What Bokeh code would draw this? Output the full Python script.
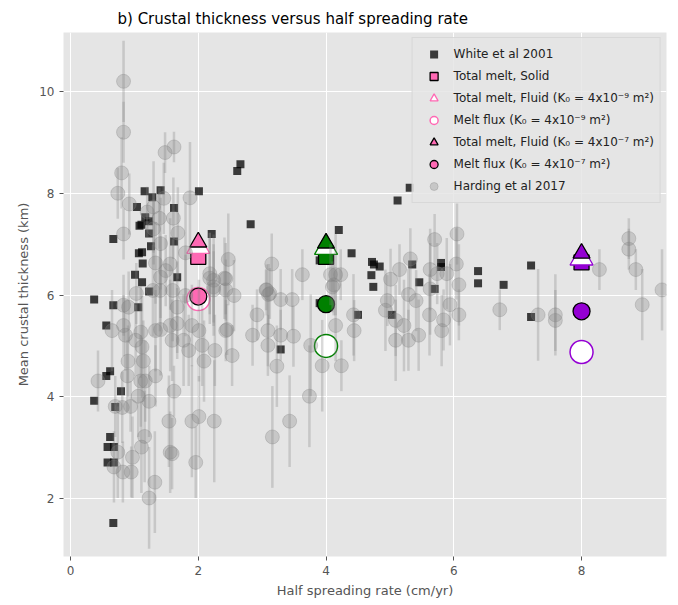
from bokeh.plotting import figure
from bokeh.models import ColumnDataSource, Legend, LegendItem, FixedTicker, Range1d
from bokeh.embed import file_html
from bokeh.resources import INLINE

# ---------------- data ----------------
# White et al. 2001 (half spreading rate cm/yr, crustal thickness km)
white_rate = [2.66, 2.61, 1.16, 1.41, 1.28, 2.01, 1.04, 1.62, 1.17, 1.23, 1.08, 1.11, 2.82,
              0.67, 1.23, 2.21, 1.62, 1.26, 1.07, 1.12, 1.13, 1.01, 1.67, 1.12, 1.23, 0.37,
              0.67, 1.06, 0.56, 0.62, 0.56, 0.79, 0.37, 0.70, 0.62, 0.58, 0.68, 0.58, 0.68,
              0.67, 3.29, 5.31, 5.12, 4.20, 4.40, 3.90, 4.72, 4.75, 4.84, 4.71, 4.74, 5.35,
              5.80, 5.80, 5.46, 5.70, 6.38, 6.38, 3.90, 4.50, 5.03, 6.78, 7.21, 7.21]
white_thick = [8.57, 8.44, 8.04, 8.06, 7.92, 8.04, 7.73, 7.71, 7.53, 7.45, 7.36, 7.38, 7.39,
               7.10, 7.21, 7.20, 7.05, 6.96, 6.82, 6.84, 6.62, 6.40, 6.35, 6.25, 6.07, 5.91,
               5.80, 5.76, 5.40, 4.50, 4.41, 4.11, 3.92, 3.80, 3.21, 3.01, 3.01, 2.71, 2.71,
               1.52, 4.93, 8.11, 7.86, 7.28, 6.82, 6.68, 6.65, 6.60, 6.56, 6.39, 6.16, 6.60,
               6.63, 6.55, 6.25, 6.12, 6.47, 6.23, 5.84, 5.61, 5.61, 6.20, 6.58, 5.57]

# Harding et al. 2017 (rate, thickness, half error bar)
hard_rate = [0.83, 0.83, 1.48, 1.62, 0.80, 0.74, 0.92, 1.46, 1.87, 1.30, 1.20, 1.61, 1.39, 1.68,
             0.83, 1.30, 1.41, 1.80, 1.33, 1.56, 1.49, 1.41, 2.47, 3.15, 2.18, 2.24, 2.43, 1.03,
             1.29, 1.40, 1.60, 1.80, 2.24, 2.43, 2.56, 3.06, 3.12, 3.29, 0.83, 0.91, 1.67, 2.92,
             2.43, 2.45, 2.85, 3.09, 3.29, 3.09, 3.23, 0.65, 0.83, 0.86, 1.10, 1.02, 1.12, 1.33,
             1.41, 1.56, 1.67, 1.90, 2.01, 1.59, 1.77, 1.85, 2.06, 2.26, 2.09, 2.53, 0.90, 1.14,
             0.43, 0.89, 1.10, 1.17, 1.33, 1.62, 0.70, 0.81, 0.94, 1.06, 1.23, 1.54, 1.90, 2.01,
             2.25, 3.16, 3.43, 1.16, 1.11, 0.74, 0.97, 1.56, 1.59, 1.96, 0.68, 0.82, 0.95, 1.32,
             1.23, 3.74, 3.94, 3.76, 3.49, 3.63, 4.07, 4.15, 4.23, 4.12, 4.10, 3.47, 4.43, 4.44,
             4.15, 4.24, 5.32, 5.15, 5.01, 4.96, 4.93, 5.09, 5.22, 5.29, 5.41, 5.09, 5.29, 5.45,
             5.70, 6.05, 5.63, 5.74, 5.89, 6.04, 6.08, 5.63, 5.94, 5.62, 5.84, 5.81, 6.08, 6.72,
             7.32, 7.59, 7.59, 8.28, 8.74, 8.74, 8.85, 8.95, 9.26, 2.41, 2.18, 2.24, 3.07, 3.10]
hard_thick = [10.20, 9.20, 8.80, 8.91, 8.40, 8.00, 7.79, 7.90, 7.91, 7.73, 7.63, 7.51, 7.51, 7.22,
              7.20, 7.30, 7.01, 6.83, 6.63, 6.61, 6.48, 6.35, 6.70, 6.61, 6.42, 6.29, 6.32, 6.03,
              6.09, 6.09, 6.09, 5.99, 6.10, 6.10, 5.99, 6.10, 6.03, 5.91, 5.80, 5.76, 5.76, 5.61,
              5.30, 5.32, 5.21, 5.30, 5.21, 5.01, 4.60, 5.30, 5.40, 5.21, 5.27, 5.11, 4.98, 5.30,
              5.32, 5.40, 5.44, 5.40, 5.30, 5.11, 5.11, 4.91, 5.01, 4.91, 4.70, 4.81, 4.70, 4.70,
              4.31, 4.41, 4.31, 4.31, 4.41, 4.11, 3.81, 3.79, 3.81, 4.01, 3.91, 3.52, 3.52, 3.61,
              3.52, 3.21, 3.52, 3.22, 3.01, 2.91, 2.81, 2.91, 2.88, 2.71, 2.62, 2.52, 2.52, 2.32,
              2.01, 4.01, 4.61, 5.01, 5.19, 6.40, 6.40, 6.40, 6.40, 6.20, 6.16, 5.91, 5.61, 5.30,
              5.40, 4.61, 6.71, 6.50, 6.31, 5.89, 5.70, 5.50, 5.40, 6.01, 5.89, 5.11, 5.11, 5.21,
              7.09, 7.20, 6.50, 6.42, 6.42, 6.61, 6.20, 6.12, 5.81, 5.61, 5.51, 5.30, 5.61, 5.71,
              5.61, 5.61, 5.50, 6.50, 7.11, 6.90, 6.50, 5.81, 6.10, 6.33, 6.33, 6.16, 6.10, 6.01]
hard_err = [0.8, 0.6, 0.4, 0.3, 0.7, 0.5, 0.6, 0.7, 1.1, 0.9, 0.5, 0.8, 0.6, 0.9,
            0.5, 0.7, 0.9, 1.0, 0.8, 0.9, 0.7, 0.8, 0.9, 0.6, 0.8, 0.9, 0.7, 0.6,
            0.9, 0.8, 1.0, 0.8, 0.9, 0.6, 0.7, 0.4, 0.5, 0.6, 0.6, 0.7, 0.9, 0.5,
            0.6, 0.5, 0.6, 0.7, 0.5, 0.6, 0.8, 0.8, 0.6, 0.7, 0.9, 0.7, 1.0, 0.8,
            0.9, 0.9, 0.7, 0.8, 1.0, 0.8, 0.9, 0.7, 0.8, 0.7, 0.8, 0.6, 0.7, 0.8,
            0.6, 0.7, 0.9, 0.8, 0.6, 0.5, 0.6, 0.7, 0.5, 0.8, 0.7, 0.9, 1.1, 0.8,
            1.2, 1.0, 0.9, 0.9, 0.9, 0.9, 0.8, 0.8, 0.7, 0.7, 0.7, 0.6, 0.5, 1.0,
            1.0, 1.0, 0.9, 1.0, 0.6, 0.5, 0.6, 0.8, 0.5, 0.6, 0.5, 0.6, 0.8, 0.6,
            0.7, 0.5, 0.6, 0.5, 0.6, 0.5, 0.8, 0.7, 0.9, 0.5, 0.6, 0.8, 0.6, 0.7,
            0.5, 0.6, 0.8, 0.6, 0.7, 0.7, 0.8, 0.9, 0.8, 0.8, 0.6, 0.7, 0.5, 0.4,
            0.9, 0.8, 0.6, 0.4, 0.4, 0.4, 0.4, 0.7, 0.8, 0.8, 0.9, 0.7, 0.5, 0.6]

# Model results
model_rate = [2, 4, 8]
model_color = ["#FF69B4", "#008000", "#9400D3"]
total_solid = [6.75, 6.75, 6.64]
total_fluid_k9 = [6.95, 6.93, 6.72]
flux_k9 = [5.92, 5.00, 4.88]
total_fluid_k7 = [7.04, 7.02, 6.82]
flux_k7 = [5.97, 5.82, 5.68]

x_ticks = [0, 2, 4, 6, 8]
y_ticks = [2, 4, 6, 8, 10]

# ---------------- figure ----------------
FONT = "DejaVu Sans"
p = figure(width=678, height=605, output_backend="svg", toolbar_location=None,
           x_range=Range1d(-0.11, 9.33), y_range=Range1d(0.86, 11.16),
           title="b) Crustal thickness versus half spreading rate",
           min_border_left=63, min_border_right=12, min_border_top=32, min_border_bottom=49)
p.background_fill_color = "#E5E5E5"
p.border_fill_color = "white"
p.outline_line_color = None

p.title.text_font = FONT
p.title.text_font_size = "15px"
p.title.text_font_style = "normal"
p.title.text_color = "black"
p.title.align = "left"
p.title.offset = 54

for ax in (p.xaxis[0], p.yaxis[0]):
    ax.axis_line_color = None
    ax.major_tick_line_color = "#555555"
    ax.major_tick_out = 4
    ax.major_tick_in = 0
    ax.minor_tick_line_color = None
    ax.major_label_text_font = FONT
    ax.major_label_text_font_size = "12px"
    ax.major_label_text_color = "#555555"
    ax.axis_label_text_font = FONT
    ax.axis_label_text_font_size = "13px"
    ax.axis_label_text_font_style = "normal"
    ax.axis_label_text_color = "#555555"
p.xaxis.ticker = FixedTicker(ticks=x_ticks)
p.yaxis.ticker = FixedTicker(ticks=y_ticks)
p.xaxis.axis_label = "Half spreading rate (cm/yr)"
p.yaxis.axis_label = "Mean crustal thickness (km)"
p.grid.grid_line_color = "white"
p.grid.grid_line_width = 1

# White et al squares
r_white = p.scatter(white_rate, white_thick, marker="square", size=8,
                    fill_color="black", fill_alpha=0.75, line_color=None)

msrc = ColumnDataSource(dict(x=model_rate, c=model_color, solid=total_solid,
                             f9=total_fluid_k9, m9=flux_k9, f7=total_fluid_k7, m7=flux_k7))
r_solid = p.scatter("x", "solid", source=msrc, marker="square", size=15,
                    fill_color="c", line_color="black", line_width=1.3)
r_f9 = p.scatter("x", "f9", source=msrc, marker="triangle", size=23,
                 fill_color="white", line_color="c", line_width=1.3)
r_m9 = p.scatter("x", "m9", source=msrc, marker="circle", size=23,
                 fill_color="white", line_color="c", line_width=1.5)
r_f7 = p.scatter("x", "f7", source=msrc, marker="triangle", size=17,
                 fill_color="c", line_color="black", line_width=1.3)
r_m7 = p.scatter("x", "m7", source=msrc, marker="circle", size=17,
                 fill_color="c", line_color="black", line_width=1.3)

# Harding et al with error bars
hsrc = ColumnDataSource(dict(x=hard_rate, y=hard_thick,
                             lo=[t - e for t, e in zip(hard_thick, hard_err)],
                             hi=[t + e for t, e in zip(hard_thick, hard_err)]))
p.segment("x", "lo", "x", "hi", source=hsrc, line_color="gray", line_alpha=0.3, line_width=2.5)
r_hard = p.scatter("x", "y", source=hsrc, marker="circle", size=14,
                   fill_color="gray", fill_alpha=0.3, line_color="gray", line_alpha=0.3)

legend = Legend(items=[
    LegendItem(label="White et al 2001", renderers=[r_white], index=0),
    LegendItem(label="Total melt, Solid", renderers=[r_solid], index=0),
    LegendItem(label="Total melt, Fluid (K\u2080 = 4x10\u207b\u2079 m\u00b2)", renderers=[r_f9], index=0),
    LegendItem(label="Melt flux (K\u2080 = 4x10\u207b\u2079 m\u00b2)", renderers=[r_m9], index=0),
    LegendItem(label="Total melt, Fluid (K\u2080 = 4x10\u207b\u2077 m\u00b2)", renderers=[r_f7], index=0),
    LegendItem(label="Melt flux (K\u2080 = 4x10\u207b\u2077 m\u00b2)", renderers=[r_m7], index=0),
    LegendItem(label="Harding et al 2017", renderers=[r_hard], index=0),
], location="top_right")
legend.label_text_font = FONT
legend.label_text_font_size = "12px"
legend.label_text_color = "#222222"
legend.glyph_width = 30
legend.glyph_height = 20
legend.label_height = 20
legend.spacing = 2
legend.padding = 6
legend.margin = 5
legend.background_fill_color = "#E5E5E5"
legend.background_fill_alpha = 0.85
legend.border_line_color = "#CCCCCC"
p.add_layout(legend)

open("out.html", "w").write(file_html(p, INLINE))
